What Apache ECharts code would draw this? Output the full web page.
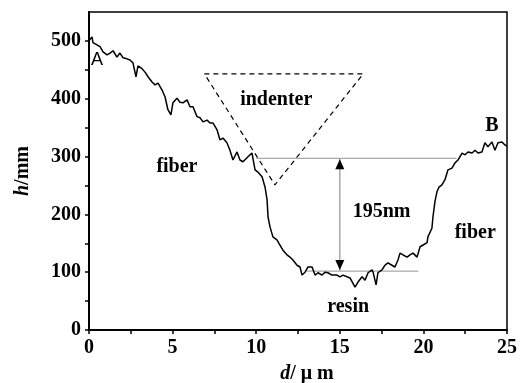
<!DOCTYPE html>
<html>
<head>
<meta charset="utf-8">
<script src="https://cdn.jsdelivr.net/npm/echarts@6/dist/echarts.min.js"></script>
<style>
	html, body { margin: 0; padding: 0; background: #fff; }
	#main { width: 520px; height: 383px; }
</style>
</head>
<body>
<div id="main"></div>
<script>
// 剖面曲线 d (μm) / h
const dVals = [0, 0.18, 0.24, 0.48, 0.66, 0.84, 1.08, 1.26, 1.44, 1.67, 1.85, 2.03, 2.27, 2.45, 2.63, 2.81, 2.93,
	3.17, 3.35, 3.53, 3.77, 3.95, 4.13, 4.37, 4.55, 4.72, 4.9, 5.02, 5.26, 5.44, 5.62, 5.86, 6.04, 6.22, 6.46,
	6.64, 6.82, 7.06, 7.24, 7.42, 7.66, 7.83, 8.01, 8.25, 8.43, 8.61, 8.85, 9.03, 9.21, 9.45, 9.63, 9.75, 9.93,
	10.11, 10.35, 10.53, 10.65, 10.71, 10.83, 11.0, 11.24, 11.42, 11.6, 11.84, 12.02, 12.2, 12.44, 12.62, 12.74,
	12.92, 13.1, 13.34, 13.52, 13.7, 13.94, 14.11, 14.29, 14.53, 14.83, 15.01, 15.19, 15.43, 15.61, 15.91, 16.09,
	16.33, 16.51, 16.69, 16.93, 16.99, 17.17, 17.28, 17.52, 17.7, 17.88, 18.12, 18.3, 18.48, 18.6, 18.78, 19.02,
	19.2, 19.38, 19.62, 19.68, 19.8, 19.98, 20.22, 20.27, 20.51, 20.57, 20.69, 20.81, 20.93, 21.11, 21.29, 21.47,
	21.71, 21.89, 22.07, 22.31, 22.49, 22.67, 22.91, 23.09, 23.27, 23.5, 23.68, 23.86, 24.1, 24.28, 24.46, 24.7,
	24.88, 25];
const hVals = [500, 507, 497, 493, 490, 481, 476, 479, 483, 472, 479, 471, 469, 467, 462, 438, 457,
	452, 446, 438, 429, 424, 427, 415, 403, 381, 372, 393, 401, 394, 393, 398, 386, 386, 369,
	367, 360, 363, 358, 358, 346, 329, 332, 324, 311, 294, 308, 294, 291, 298, 303, 306, 277,
	273, 265, 247, 225, 195, 178, 161, 156, 147, 138, 130, 126, 121, 112, 109, 95,
	100, 109, 109, 95, 99, 95, 100, 99, 95, 95, 92, 95, 92, 90, 74, 83,
	92, 86, 99, 104, 100, 78, 99, 104, 112, 116, 112, 109, 121, 133, 130, 126,
	130, 133, 126, 125, 144, 147, 151, 161, 176, 195, 222, 239, 247, 251, 260, 277,
	280, 289, 294, 306, 303, 308, 306, 311, 306, 308, 324, 317, 325, 311, 324, 325,
	320, 318];

// 压头三角形
const indenterD = [6.9, 16.4, 11.12, 6.9];
const indenterH = [443, 443, 251, 443];
// 参考线
const topLine = [[10, 297], [22, 297]];
const bottomLine = [[13, 102], [19.7, 102]];
const arrowLine = [[15, 297], [15, 102]];
// 文字标注
const noteText = ['A', 'B', 'indenter', 'fiber', 'fiber', '195nm', 'resin'];
const noteD = [0.48, 24.1, 11.2, 5.26, 23.1, 17.5, 15.5];
const noteH = [467, 353, 398, 282, 168, 204, 40];
// 刻度标签
const xLabels = [0, 5, 10, 15, 20, 25];
const yLabels = [0, 100, 200, 300, 400, 500];

const serif = 'Liberation Serif';
const txt = {
	color: '#000',
	fontFamily: serif,
	fontWeight: 'bold',
	fontSize: 20,
};
let chart = echarts.init(document.getElementById('main'));

let option = {
	animation: false,
	grid: {
		left: 89,
		right: 13,
		top: 12,
		bottom: 53,
		outerBoundsMode: 'none',
		show: true,
		borderColor: '#000',
		borderWidth: 1.5,
	},
	xAxis: {
		type: 'value',
		min: 0,
		max: 25,
		interval: 2.5,
		name: '{i|d}/ μ m',
		nameLocation: 'middle',
		nameGap: 34,
		nameTextStyle: Object.assign({}, txt, {
			padding: [0, 0, 0, 18],
			rich: { i: Object.assign({}, txt, { fontStyle: 'italic' }) },
		}),
		splitLine: { show: false },
		axisLine: { lineStyle: { color: '#000', width: 2 } },
		axisTick: { length: 4, lineStyle: { color: '#000', width: 1.5 } },
		axisLabel: Object.assign({}, txt, {
			margin: 8,
			formatter: (v) => (xLabels.includes(v) ? String(v) : ''),
		}),
	},
	yAxis: {
		type: 'value',
		min: 0,
		max: 550,
		interval: 50,
		name: '{i|h}/mm',
		nameLocation: 'middle',
		nameGap: 56,
		nameTextStyle: Object.assign({}, txt, {
			rich: { i: Object.assign({}, txt, { fontStyle: 'italic' }) },
		}),
		splitLine: { show: false },
		axisLine: { lineStyle: { color: '#000', width: 2 } },
		axisTick: { length: 4, lineStyle: { color: '#000', width: 1.5 } },
		axisLabel: Object.assign({}, txt, {
			margin: 8,
			showMaxLabel: false,
			formatter: (v) => (yLabels.includes(v) ? String(v) : ''),
		}),
	},
	series: [
		{
			type: 'line',
			data: dVals.map((d, i) => [d, hVals[i]]),
			showSymbol: false,
			lineStyle: { color: '#000', width: 1.5 },
			z: 5,
		},
		{
			type: 'line',
			data: indenterD.map((d, i) => [d, indenterH[i]]),
			showSymbol: false,
			lineStyle: { color: '#000', width: 1.2, type: [5, 4] },
		},
		{
			type: 'line',
			data: topLine,
			showSymbol: false,
			lineStyle: { color: '#a8a8a8', width: 1.3 },
		},
		{
			type: 'line',
			data: bottomLine,
			showSymbol: false,
			lineStyle: { color: '#a8a8a8', width: 1.3 },
		},
		{
			type: 'line',
			data: arrowLine,
			showSymbol: false,
			lineStyle: { color: '#a8a8a8', width: 1.5 },
		},
		{
			// 箭头
			type: 'scatter',
			symbol: 'triangle',
			symbolSize: [9, 10],
			itemStyle: { color: '#000', opacity: 1 },
			data: [
				{ value: arrowLine[0], symbolOffset: [0, 6] },
				{ value: arrowLine[1], symbolRotate: 180, symbolOffset: [0, -6] },
			],
			z: 6,
		},
		{
			type: 'scatter',
			symbolSize: 0,
			itemStyle: { opacity: 1 },
			data: noteText.map((t, i) => ({
				name: t,
				value: [noteD[i], noteH[i]],
				label: i === 0 ? { fontFamily: 'Liberation Sans', fontWeight: 'normal', fontSize: 18 } : {},
			})),
			label: Object.assign({}, txt, {
				show: true,
				position: 'inside',
				formatter: '{b}',
			}),
			z: 7,
		},
	],
};
chart.setOption(option);
</script>
</body>
</html>
